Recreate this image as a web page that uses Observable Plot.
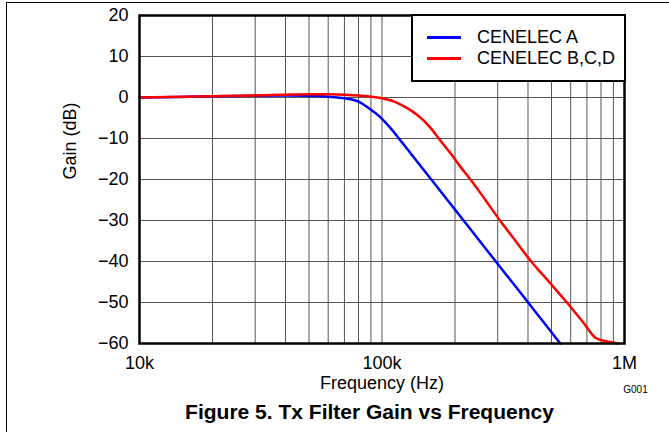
<!DOCTYPE html>
<html>
<head>
<meta charset="utf-8">
<script src="https://cdn.jsdelivr.net/npm/d3@7"></script>
<script src="https://cdn.jsdelivr.net/npm/@observablehq/plot@0.6"></script>
<style>
  html, body { margin: 0; padding: 0; background: white; overflow: hidden; }
  #wrap { position: relative; width: 669px; height: 432px; font-family: "Liberation Sans", Arial, sans-serif; color: #000; }
  #chart { position: absolute; left: 0; top: 0; }
  #outer { position: absolute; left: 6px; top: 2px; width: 720px; height: 500px; border-left: 1.5px solid #000; border-top: 1.5px solid #000; z-index: 3; pointer-events: none; }
  #legend { position: absolute; left: 411px; top: 14px; width: 211px; height: 64px; background: white; border: 2px solid #000; z-index: 2; }
  .row { position: absolute; left: 0; height: 20px; font-size: 18px; line-height: 20px; white-space: nowrap; }
  .sw { position: absolute; left: 14px; width: 34px; height: 3px; top: 9px; }
  .lab { position: absolute; left: 64px; top: 0; }
  #caption { position: absolute; left: 119.5px; width: 500px; top: 401px; text-align: center; font-weight: bold; font-size: 21px; line-height: 21px; white-space: nowrap; }
</style>
</head>
<body>
<div id="wrap">
  <div id="chart"></div>
  <div id="legend"></div>
  <div id="outer"></div>
  <div id="caption"></div>
</div>
<script>
// Data
const seriesNames = ["CENELEC A", "CENELEC B,C,D"];
const seriesColors = ["#0000ff", "#ff0000"];

const freqA = [10000, 15000, 20000, 30000, 40000, 50000, 60000, 70000, 80000, 90000, 100000, 110000, 120000, 136900, 159700, 186100, 217000, 252900, 294600, 343700, 400500, 466700, 543800];
const gainA = [0, 0.15, 0.3, 0.45, 0.5, 0.45, 0.2, -0.2, -1.0, -3.0, -5.2, -7.9, -10.7, -15, -20, -25, -30, -35, -40, -45, -50, -55, -60];

const freqB = [10000, 20000, 30000, 40000, 50000, 60000, 70000, 80000, 90000, 100000, 110000, 120000, 132000, 144000, 158000, 172000, 191000, 210000, 233700, 267700, 306600, 355500, 412400, 488900, 578800, 678400, 759400, 830000, 903000, 934000];
const gainB = [0, 0.3, 0.5, 0.7, 0.8, 0.8, 0.7, 0.5, 0.2, -0.2, -0.8, -1.8, -3.2, -4.9, -7.3, -10.1, -13.5, -16.8, -20.3, -25.1, -30, -35, -40, -45, -50, -55, -58.6, -59.4, -59.8, -60];

const xTicks = [10000, 100000, 1000000];
const xTickLabels = ["10k", "100k", "1M"];
const yTicks = [-60, -50, -40, -30, -20, -10, 0, 10, 20];
const yTickLabels = ["\u221260", "\u221250", "\u221240", "\u221230", "\u221220", "\u221210", "0", "10", "20"];

const xLabel = "Frequency (Hz)";
const yLabel = "Gain (dB)";
const figId = "G001";
const captionText = "Figure 5. Tx Filter Gain vs Frequency";

const dataA = freqA.map((f, i) => ({f, g: gainA[i]}));
const dataB = freqB.map((f, i) => ({f, g: gainB[i]}));
const minorTicks = d3.scaleLog().domain([1e4, 1e6]).ticks();

const chart = Plot.plot({
  width: 669,
  height: 400,
  marginLeft: 139,
  marginRight: 45,
  marginTop: 15,
  marginBottom: 57,
  x: {type: "log", domain: [1e4, 1e6]},
  y: {domain: [-60, 20]},
  style: {fontFamily: "'Liberation Sans', Arial, sans-serif", fontSize: "18px", color: "#000", background: "transparent"},
  marks: [
    Plot.gridX(minorTicks, {stroke: "#555", strokeOpacity: 1, strokeWidth: 1}),
    Plot.gridY(yTicks, {stroke: "#555", strokeOpacity: 1, strokeWidth: 1}),
    Plot.axisX(xTicks, {tickSize: 0, tickPadding: 13, tickFormat: d => xTickLabels[xTicks.indexOf(d)], label: null, fontSize: 18}),
    Plot.axisY(yTicks, {tickSize: 0, tickPadding: 11, tickFormat: d => yTickLabels[yTicks.indexOf(d)], label: null, fontSize: 18}),
    Plot.line(dataA, {x: "f", y: "g", stroke: seriesColors[0], strokeWidth: 2.5, curve: "monotone-x"}),
    Plot.line(dataB, {x: "f", y: "g", stroke: seriesColors[1], strokeWidth: 2.5, curve: "monotone-x"}),
    Plot.frame({stroke: "#000", strokeWidth: 2.5}),
    Plot.text([yLabel], {text: d => d, frameAnchor: "left", dx: -69, rotate: -90, fontSize: 18}),
    Plot.text([xLabel], {text: d => d, frameAnchor: "bottom", dy: 45, fontSize: 18}),
    Plot.text([figId], {text: d => d, frameAnchor: "bottom-right", textAnchor: "middle", dx: 11, dy: 49, fontSize: 10})
  ]
});
document.getElementById("chart").appendChild(chart);

// Legend
const legend = document.getElementById("legend");
seriesNames.forEach((name, i) => {
  const row = document.createElement("div");
  row.className = "row";
  row.style.top = (11 + i * 21) + "px";
  row.style.width = "100%";
  const sw = document.createElement("div");
  sw.className = "sw";
  sw.style.background = seriesColors[i];
  const lab = document.createElement("div");
  lab.className = "lab";
  lab.textContent = name;
  row.appendChild(sw);
  row.appendChild(lab);
  legend.appendChild(row);
});
document.getElementById("caption").textContent = captionText;
</script>
</body>
</html>
